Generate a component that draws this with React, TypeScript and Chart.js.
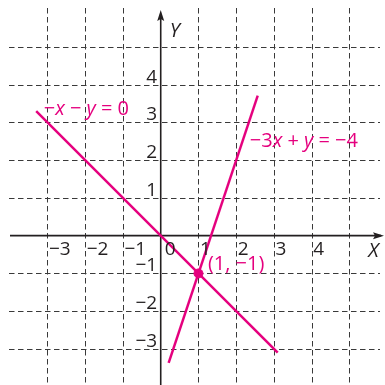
import { useEffect, useRef } from "react";
import { Chart, registerables } from "chart.js";
Chart.register(...registerables);

const gridXValues = [-3, -2, -1, 1, 2, 3, 4, 5];
const gridYValues = [-3, -2, -1, 1, 2, 3, 4, 5];
const xTickValues = [-3, -2, -1, 0, 1, 2, 3, 4];
const xTickLabels = ["−3", "−2", "−1", "0", "1", "2", "3", "4"];
const yTickValues = [4, 3, 2, 1, -1, -2, -3];
const yTickLabels = ["4", "3", "2", "1", "−1", "−2", "−3"];
const line1X = [-3.3, 3.1];
const line1Y = [3.3, -3.1];
const line2X = [0.21, 2.57];
const line2Y = [-3.37, 3.71];
const solutionX = [1];
const solutionY = [-1];

const PINK = "#e5007e";
const INK = "#231f20";
const FONT = "'Open Sans', 'Noto Sans', sans-serif";

type Seg = { t: string; i?: boolean };
const eq1: Seg[] = [{ t: "−" }, { t: "x", i: true }, { t: " − " }, { t: "y", i: true }, { t: " = 0" }];
const eq2: Seg[] = [{ t: "−3" }, { t: "x", i: true }, { t: " + " }, { t: "y", i: true }, { t: " = −4" }];
const ptLabel: Seg[] = [{ t: "(1, −1)" }];

function drawRich(ctx: CanvasRenderingContext2D, segs: Seg[], x: number, y: number, size: number, color: string) {
  ctx.fillStyle = color;
  ctx.textBaseline = "middle";
  ctx.textAlign = "left";
  let cx = x;
  for (const s of segs) {
    ctx.font = `${s.i ? "italic " : ""}${size}px ${FONT}`;
    ctx.fillText(s.t, cx, y);
    cx += ctx.measureText(s.t).width;
  }
}

const axesPlugin = {
  id: "axesPlugin",
  beforeDatasetsDraw(chart: any) {
    const ctx: CanvasRenderingContext2D = chart.ctx;
    const xs = chart.scales.x;
    const ys = chart.scales.y;
    const a = chart.chartArea;
    ctx.save();
    ctx.strokeStyle = "#3a3a3a";
    ctx.lineWidth = 1;
    ctx.setLineDash([5.5, 3.5]);
    for (const v of gridXValues) {
      const px = Math.round(xs.getPixelForValue(v)) + 0.5;
      ctx.beginPath();
      ctx.moveTo(px, a.top);
      ctx.lineTo(px, a.bottom);
      ctx.stroke();
    }
    for (const v of gridYValues) {
      const py = Math.round(ys.getPixelForValue(v)) + 0.5;
      ctx.beginPath();
      ctx.moveTo(a.left, py);
      ctx.lineTo(a.right, py);
      ctx.stroke();
    }
    ctx.setLineDash([]);
    const ox = xs.getPixelForValue(0);
    const oy = ys.getPixelForValue(0);
    ctx.strokeStyle = INK;
    ctx.fillStyle = INK;
    ctx.lineWidth = 1.6;
    ctx.beginPath();
    ctx.moveTo(a.left + 1, oy);
    ctx.lineTo(a.right + 1, oy);
    ctx.stroke();
    ctx.beginPath();
    ctx.moveTo(a.right + 4, oy);
    ctx.lineTo(a.right - 7, oy - 3.5);
    ctx.lineTo(a.right - 5, oy);
    ctx.lineTo(a.right - 7, oy + 3.5);
    ctx.closePath();
    ctx.fill();
    ctx.beginPath();
    ctx.moveTo(ox, a.bottom);
    ctx.lineTo(ox, a.top + 6);
    ctx.stroke();
    ctx.beginPath();
    ctx.moveTo(ox, a.top + 2);
    ctx.lineTo(ox - 3.5, a.top + 13);
    ctx.lineTo(ox, a.top + 11);
    ctx.lineTo(ox + 3.5, a.top + 13);
    ctx.closePath();
    ctx.fill();
    ctx.restore();
  },
  afterDatasetsDraw(chart: any) {
    const ctx: CanvasRenderingContext2D = chart.ctx;
    const xs = chart.scales.x;
    const ys = chart.scales.y;
    const ox = xs.getPixelForValue(0);
    const oy = ys.getPixelForValue(0);
    ctx.save();
    ctx.fillStyle = INK;
    ctx.font = `19px ${FONT}`;
    ctx.textAlign = "left";
    ctx.textBaseline = "middle";
    xTickValues.forEach((v, i) => {
      const px = xs.getPixelForValue(v);
      ctx.fillText(xTickLabels[i], px + (v === 0 ? 4 : 1.5), oy + 14);
    });
    ctx.textAlign = "right";
    ctx.textBaseline = "alphabetic";
    yTickValues.forEach((v, i) => {
      const py = ys.getPixelForValue(v);
      ctx.fillText(yTickLabels[i], ox - 3.5, py - 2);
    });
    ctx.font = `italic 20px ${FONT}`;
    ctx.textAlign = "left";
    ctx.textBaseline = "middle";
    ctx.fillText("X", xs.getPixelForValue(5.5), oy + 16);
    ctx.fillText("Y", ox + 9, ys.getPixelForValue(5.4));
    drawRich(ctx, eq1, xs.getPixelForValue(-3.1), ys.getPixelForValue(3.35), 20, PINK);
    drawRich(ctx, eq2, xs.getPixelForValue(2.36), ys.getPixelForValue(2.5), 20, PINK);
    drawRich(ctx, ptLabel, xs.getPixelForValue(1.25), ys.getPixelForValue(-0.75), 20, PINK);
    ctx.restore();
  },
};

export default function App() {
  const ref = useRef<HTMLCanvasElement | null>(null);
  useEffect(() => {
    if (!ref.current) return;
    const chart = new Chart(ref.current, {
      type: "scatter",
      data: {
        datasets: [
          {
            data: line1X.map((x, i) => ({ x, y: line1Y[i] })),
            showLine: true,
            borderColor: PINK,
            borderWidth: 2.5,
            pointRadius: 0,
          },
          {
            data: line2X.map((x, i) => ({ x, y: line2Y[i] })),
            showLine: true,
            borderColor: PINK,
            borderWidth: 2.5,
            pointRadius: 0,
          },
          {
            data: solutionX.map((x, i) => ({ x, y: solutionY[i] })),
            pointRadius: 4.5,
            backgroundColor: PINK,
            borderColor: PINK,
          },
        ],
      },
      options: {
        animation: false,
        responsive: false,
        layout: { autoPadding: false, padding: { left: 9, right: 5, top: 8, bottom: 0 } },
        plugins: { legend: { display: false }, tooltip: { enabled: false }, title: { display: false } },
        scales: {
          x: { type: "linear", display: false, min: -4.02, max: 5.81 },
          y: { type: "linear", display: false, min: -3.955, max: 6.03 },
        },
      },
      plugins: [axesPlugin],
    });
    return () => chart.destroy();
  }, []);
  return (
    <div style={{ position: "fixed", left: 0, top: 0, width: 385, height: 385, background: "#fff" }}>
      <canvas ref={ref} width={385} height={385} style={{ width: 385, height: 385 }} />
    </div>
  );
}
